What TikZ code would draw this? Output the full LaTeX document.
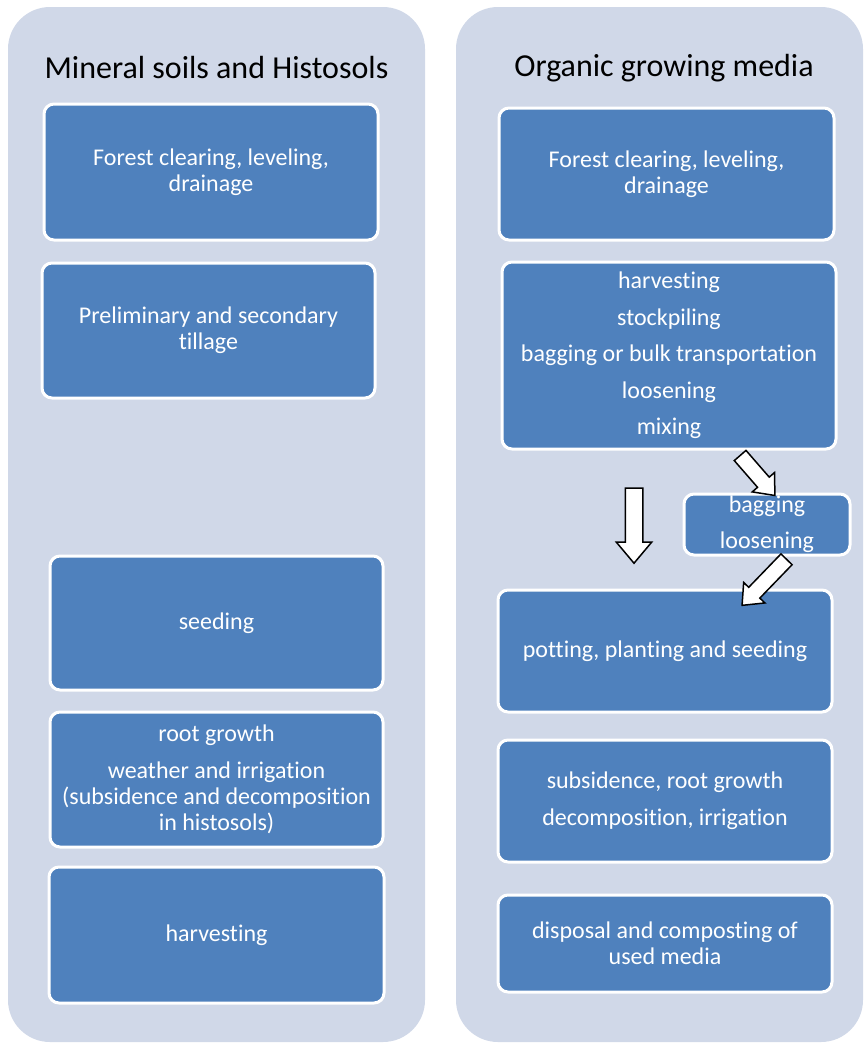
\documentclass[tikz,border=0pt]{standalone}
\usepackage{fontspec}
\setmainfont{Carlito}[RawFeature={-liga}]
\usepackage{tikz}
\usetikzlibrary{shapes.arrows}

\definecolor{panelbg}{HTML}{D0D8E8}
\definecolor{stepblue}{HTML}{4F81BD}

\tikzset{
    panel/.style={fill=panelbg, rounded corners=42pt},
    paneltitle/.style={font=\fontsize{32}{38}\selectfont},
    stepbox/.style={draw=white, line width=3pt, fill=stepblue, rounded corners=10pt,
        text=white, align=center, inner sep=0pt, font=\fontsize{24}{26}\selectfont},
    blockarrow/.style={single arrow, draw=black, line width=1.5pt, fill=white,
        inner xsep=0pt, single arrow tip angle=80},
}

\begin{document}
\begin{tikzpicture}[x=1pt, y=-1pt]
        \useasboundingbox (0, 0) rectangle (864, 1045);
        % the two columns
        \fill[panel] (8, 7) rectangle (425, 1042);
        \fill[panel] (456, 7) rectangle (863, 1042);
        \node[paneltitle] (mtitle) at (216.5, 68) {Mineral soils and Histosols};
        \node[paneltitle] (otitle) at (664, 68) {Organic growing media};

        % mineral soils and histosols
        \node[stepbox, minimum width=334, minimum height=136] (m1) at (211, 172) {Forest clearing, leveling,\\ drainage};
        \node[stepbox, minimum width=333, minimum height=135] (m2) at (208.5, 330.5) {Preliminary and secondary\\ tillage};
        \node[stepbox, minimum width=333, minimum height=134] (m3) at (216.5, 623) {seeding};
        \node[stepbox, minimum width=333, minimum height=135] (m4) at (216.5, 779.5) {root growth\\[11pt] weather and irrigation\\ (subsidence and decomposition\\ in histosols)};
        \node[stepbox, minimum width=335, minimum height=136] (m5) at (216.5, 935) {harvesting};

        % organic growing media
        \node[stepbox, minimum width=335, minimum height=132] (o1) at (666.5, 174) {Forest clearing, leveling,\\ drainage};
        \node[stepbox, minimum width=334, minimum height=187] (o2) at (669, 355.5) {harvesting\\[10.5pt] stockpiling\\[10.5pt] bagging or bulk transportation\\[10.5pt] loosening\\[10.5pt] mixing};
        \node[stepbox, minimum width=166, minimum height=61] (o3) at (767, 524.5) {bagging\\[10pt] loosening};
        \node[stepbox, minimum width=334, minimum height=122] (o4) at (665, 651) {potting, planting and seeding};
        \node[stepbox, minimum width=334, minimum height=122] (o5) at (665, 801) {subsidence, root growth\\[11pt] decomposition, irrigation};
        \node[stepbox, minimum width=334, minimum height=97] (o6) at (665, 943.5) {disposal and composting of\\ used media};

        % block arrows
        \node[blockarrow, inner ysep=8pt, single arrow head extend=9pt, minimum height=75, rotate=-90] (adown) at (634, 520.5) {};
        \node[blockarrow, inner ysep=7pt, single arrow head extend=7pt, minimum height=53, rotate=-49] (abag) at (754.5, 472) {};
        \node[blockarrow, inner ysep=7pt, single arrow head extend=7pt, minimum height=64, rotate=-134] (apot) at (767.5, 579) {};
\end{tikzpicture}
\end{document}
